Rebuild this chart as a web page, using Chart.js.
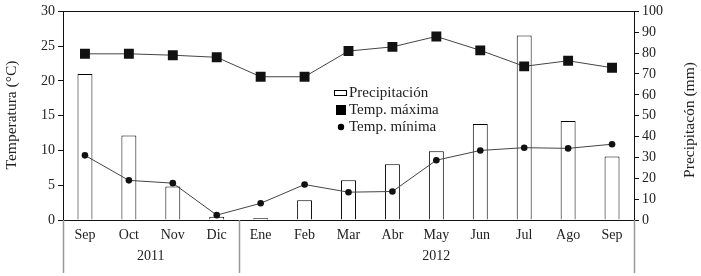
<!DOCTYPE html>
<html>
<head>
<meta charset="utf-8">
<script src="https://cdn.jsdelivr.net/npm/chart.js@4.4.0/dist/chart.umd.min.js"></script>
<style>
  html, body { margin: 0; padding: 0; background: #fff; }
  #wrap { width: 701px; height: 276px; position: relative; }
</style>
</head>
<body>
<div id="wrap"><canvas id="chartClima"></canvas></div>
<script>
// ---- data
const months = ['Sep','Oct','Nov','Dic','Ene','Feb','Mar','Abr','May','Jun','Jul','Ago','Sep'];
const years = ['2011', '2012'];
const yearSpans = [[0, 3], [4, 12]];   // first and last month index of every year
const precipitacion = [70, 40.5, 16, 1.5, 0.8, 9.5, 19, 26.7, 33, 46, 88.5, 47.5, 30.5];
const tempMaxima = [23.9, 23.9, 23.7, 23.4, 20.6, 20.6, 24.3, 24.9, 26.4, 24.4, 22.1, 22.9, 21.9];
const tempMinima = [9.3, 5.7, 5.3, 0.7, 2.4, 5.1, 4.0, 4.1, 8.6, 10.0, 10.4, 10.3, 10.9];
const tempTicks = [0, 5, 10, 15, 20, 25, 30];
const precTicks = [0, 10, 20, 30, 40, 50, 60, 70, 80, 90, 100];

const FONT = 'Liberation Serif';

window.onload = function(){
  drawClima();
}

// frame, year labels, separators, axis titles and legend
const extrasPlugin = {
  id: 'extras',
  afterDraw(chart){
    const ctx = chart.ctx;
    const a = chart.chartArea;
    const x = chart.scales.x;
    ctx.save();

    //---frame
    ctx.strokeStyle = '#111';
    ctx.lineWidth = 1;
    ctx.strokeRect(Math.round(a.left) + 0.5, Math.round(a.top) + 0.5,
                   Math.round(a.right - a.left), Math.round(a.bottom - a.top));

    //---year separators
    ctx.strokeStyle = '#999';
    ctx.lineWidth = 1.5;
    let seps = [a.left, (x.getPixelForValue(3) + x.getPixelForValue(4)) / 2, a.right];
    seps.forEach(function(p){
      ctx.beginPath();
      ctx.moveTo(Math.round(p) + 0.5, a.bottom);
      ctx.lineTo(Math.round(p) + 0.5, a.bottom + 53);
      ctx.stroke();
    });

    //---years
    ctx.fillStyle = '#222';
    ctx.font = '14px "' + FONT + '"';
    ctx.textAlign = 'center';
    ctx.textBaseline = 'middle';
    for (let i = 0; i < years.length; i++) {
      let cx = (x.getPixelForValue(yearSpans[i][0]) + x.getPixelForValue(yearSpans[i][1])) / 2;
      ctx.fillText(years[i], cx, a.bottom + 36);
    }

    //---axis titles
    ctx.font = '15.5px "' + FONT + '"';
    ctx.save();
    ctx.translate(12, 115);
    ctx.rotate(-Math.PI / 2);
    ctx.fillText('Temperatura (°C)', 0, 0);
    ctx.restore();
    ctx.save();
    ctx.translate(690, 120);
    ctx.rotate(-Math.PI / 2);
    ctx.fillText('Precipitacón (mm)', 0, 0);
    ctx.restore();

    //---legend
    let ly = 93, step = 17;
    ctx.font = '15px "' + FONT + '"';
    ctx.textAlign = 'left';
    chart.data.datasets.forEach(function(ds, i){
      let y = ly + i * step;
      ctx.fillStyle = '#000';
      ctx.strokeStyle = '#000';
      ctx.lineWidth = 1;
      if (ds.type === 'bar') {
        ctx.fillStyle = '#fff';
        ctx.fillRect(334.5, y - 2.5, 12, 5);
        ctx.strokeRect(334.5, y - 2.5, 12, 5);
      } else if (ds.pointStyle === 'rect') {
        ctx.fillRect(336, y - 5, 10, 10);
      } else {
        ctx.beginPath();
        ctx.arc(341, y, 3.2, 0, Math.PI * 2);
        ctx.fill();
      }
      ctx.fillStyle = '#222';
      ctx.fillText(ds.label, 349, y);
    });

    ctx.restore();
  }
};

let chart1;
function drawClima(){
  var ctx = document.getElementById('chartClima').getContext('2d');
  if (chart1) {
    chart1.destroy();
  }
  chart1 = new Chart(ctx, {
    data: {
      labels: months,
      datasets: [
        {
          type: 'bar',
          label: 'Precipitación',
          data: precipitacion,
          yAxisID: 'y2',
          backgroundColor: '#fff',
          borderColor: '#000',
          borderWidth: 1,
          barPercentage: 0.34,
          categoryPercentage: 1,
          order: 2
        },
        {
          type: 'line',
          label: 'Temp. máxima',
          data: tempMaxima,
          yAxisID: 'y',
          borderColor: '#444',
          borderWidth: 1,
          pointStyle: 'rect',
          pointRadius: 7,
          pointBackgroundColor: '#111',
          pointBorderColor: '#111',
          pointBorderWidth: 0,
          tension: 0,
          order: 0
        },
        {
          type: 'line',
          label: 'Temp. mínima',
          data: tempMinima,
          yAxisID: 'y',
          borderColor: '#444',
          borderWidth: 1,
          pointStyle: 'circle',
          pointRadius: 3.3,
          pointBackgroundColor: '#111',
          pointBorderColor: '#111',
          pointBorderWidth: 0,
          tension: 0,
          order: 1
        }
      ]
    },
    plugins: [extrasPlugin],
    options: {
      responsive: true,
      maintainAspectRatio: false,
      animation: false,
      layout: { padding: { top: 10, left: 0, right: 0, bottom: 0 } },
      plugins: {
        legend: { display: false },
        tooltip: { enabled: false }
      },
      scales: {
        x: {
          offset: true,
          grid: { display: false, drawTicks: false },
          border: { display: false },
          ticks: {
            color: '#222',
            padding: 7,
            maxRotation: 0,
            autoSkip: false,
            font: { family: FONT, size: 14 }
          },
          afterFit: function(s){ s.height = 56; }
        },
        y: {
          position: 'left',
          min: 0,
          max: 30,
          afterBuildTicks: function(s){ s.ticks = tempTicks.map(v => ({ value: v })); },
          grid: { drawOnChartArea: false, drawTicks: true, tickLength: 5, color: '#111' },
          border: { display: false },
          ticks: {
            color: '#222',
            padding: 3,
            font: { family: FONT, size: 14 }
          },
          afterFit: function(s){ s.width = 63; }
        },
        y2: {
          position: 'right',
          min: 0,
          max: 100,
          afterBuildTicks: function(s){ s.ticks = precTicks.map(v => ({ value: v })); },
          grid: { drawOnChartArea: false, drawTicks: true, tickLength: 5, color: '#111' },
          border: { display: false },
          ticks: {
            color: '#222',
            padding: 3,
            font: { family: FONT, size: 14 }
          },
          afterFit: function(s){ s.width = 67; }
        }
      }
    }
  });
}
</script>
</body>
</html>
